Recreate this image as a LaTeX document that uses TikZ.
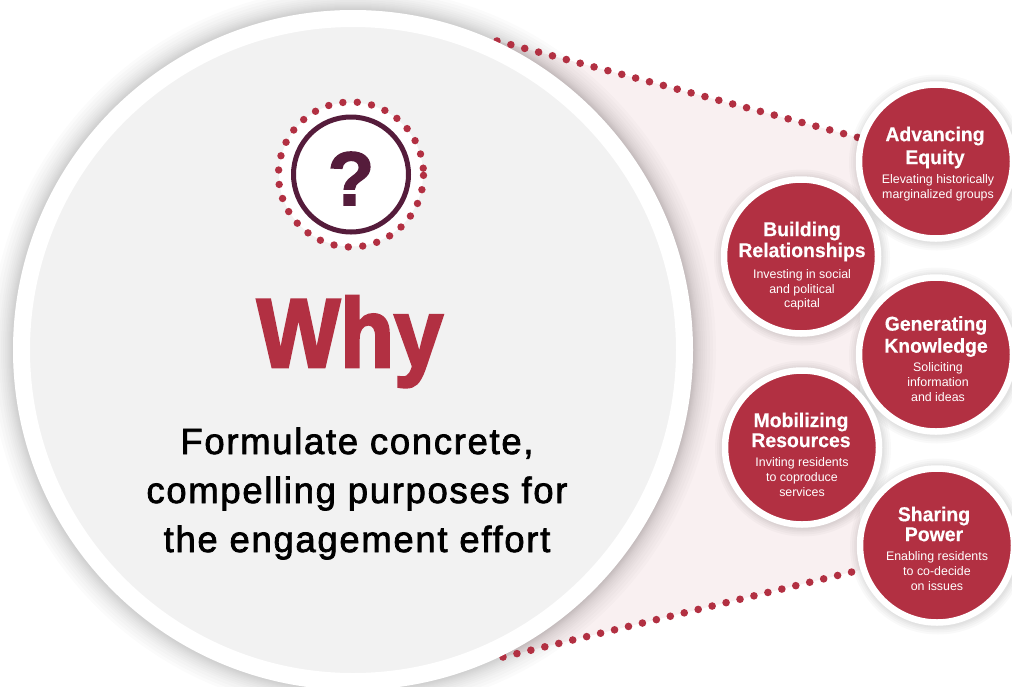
\documentclass[tikz,border=0pt]{standalone}
\usepackage{fontspec}
\usetikzlibrary{calc}
\setmainfont{Liberation Sans}
\newfontfamily\whyfont[FakeBold=2.6,FakeStretch=0.9]{Liberation Sans Bold}
\newfontfamily\qfont[FakeBold=2]{Liberation Sans Bold}
\newfontfamily\headfont[FakeBold=0.4,FakeStretch=0.97]{Liberation Sans Bold}
\newfontfamily\leadfont[FakeBold=2,LetterSpace=4.6,FakeStretch=1.0]{Liberation Sans}
\definecolor{wred}{HTML}{B23042}
\definecolor{wdark}{HTML}{551C3B}
\definecolor{wgrey}{HTML}{F2F2F2}
\definecolor{wpink}{HTML}{F9F0F1}
\tikzset{
  ball/.style={circle,fill=wred,draw=white,line width=6.5pt,minimum size=154pt,inner sep=0pt},
  dotline/.style={wred,line width=7.6pt,line cap=round,dash pattern=on 0pt off 14.35pt},
  headtxt/.style={text=white,align=center,font=\headfont\fontsize{20}{22}\selectfont,inner sep=0pt},
  desctxt/.style={text=white,align=center,font=\fontsize{12.4}{14.6}\selectfont,inner sep=0pt},
  leadtxt/.style={text=black,align=center,font=\leadfont\fontsize{36.5}{49}\selectfont,inner sep=0pt},
}
\begin{document}
\begin{tikzpicture}[x=1pt,y=-1pt]
\useasboundingbox (0,0) rectangle (1012,686);
\clip (0,0) rectangle (1012,686);
\coordinate (ta) at (497,41);
\coordinate (tb) at (860,138);
\coordinate (ba) at (503,657);
\coordinate (bb) at (860,570);
\coordinate (mid) at (353,350);
\fill[wpink] (ta) -- (tb) -- (bb) -- (ba) -- cycle;
% main circle shadow
\foreach \r in {363,360,357,354,352,350,348,346.5,345,344,343,342,341}{\fill[black,opacity=0.017] (mid) circle[radius=\r];}
\draw[dotline] (ta) -- (tb);
\draw[dotline] (ba) -- (bb);
\node[circle,fill=wgrey,draw=white,line width=17pt,minimum size=663pt,inner sep=0pt] (main) at (mid) {};
% question icon
\coordinate (qc) at (351,174.5);
\fill[white] (qc) circle[radius=72];
\foreach \i in {0,...,31}{\fill[wred] ($(qc)+({72.5*cos(5+11.43*\i)},{-72.5*sin(5+11.43*\i)})$) circle[radius=3.7];}
\node[circle,draw=wdark,fill=white,line width=5pt,minimum size=115pt,inner sep=0pt] (qring) at (qc) {};
\node[text=wdark,font=\qfont\fontsize{76}{76}\selectfont,inner sep=0pt,anchor=base] (qmark) at (351,205) {?};
\node[text=wred,font=\whyfont\fontsize{98}{98}\selectfont,inner sep=0pt,anchor=base] (why) at (350,367) {Why};
\node[leadtxt,anchor=base] (lead) at (357,552) {Formulate concrete,\\compelling purposes for\\the engagement effort};
% small circle shadows
\foreach \cx/\cy in {801/256.5,802/447.5,936/161.5,936/354.5,937/545.5}{
  \foreach \r in {88,86,84,82.5,81}{\fill[black,opacity=0.025] (\cx+1,\cy+1) circle[radius=\r];}
}
\node[ball] (eq) at (936,161.5) {};
\node[ball] (br) at (801,256.5) {};
\node[ball] (gk) at (936,354.5) {};
\node[ball] (mr) at (802,447.5) {};
\node[ball] (sp) at (937,545.5) {};
\node[headtxt] (eqh) at (935,147.5) {Advancing\\[1pt]Equity};
\node[desctxt] (eqd) at (938,187.5) {Elevating historically\\marginalized groups};
\node[headtxt] (brh) at (802,241.5) {Building\\[-1pt]Relationships};
\node[desctxt] (brd) at (802,290) {Investing in social\\and political\\capital};
\node[headtxt] (gkh) at (936,336.5) {Generating\\Knowledge};
\node[desctxt] (gkd) at (938,382) {Soliciting\\information\\and ideas};
\node[headtxt] (mrh) at (801,430) {Mobilizing\\[-2pt]Resources};
\node[desctxt] (mrd) at (802,477) {Inviting residents\\to coproduce\\services};
\node[headtxt] (sph) at (934,524) {Sharing\\[-2pt]Power};
\node[desctxt] (spd) at (937,571) {Enabling residents\\to co-decide\\on issues};
\end{tikzpicture}
\end{document}
